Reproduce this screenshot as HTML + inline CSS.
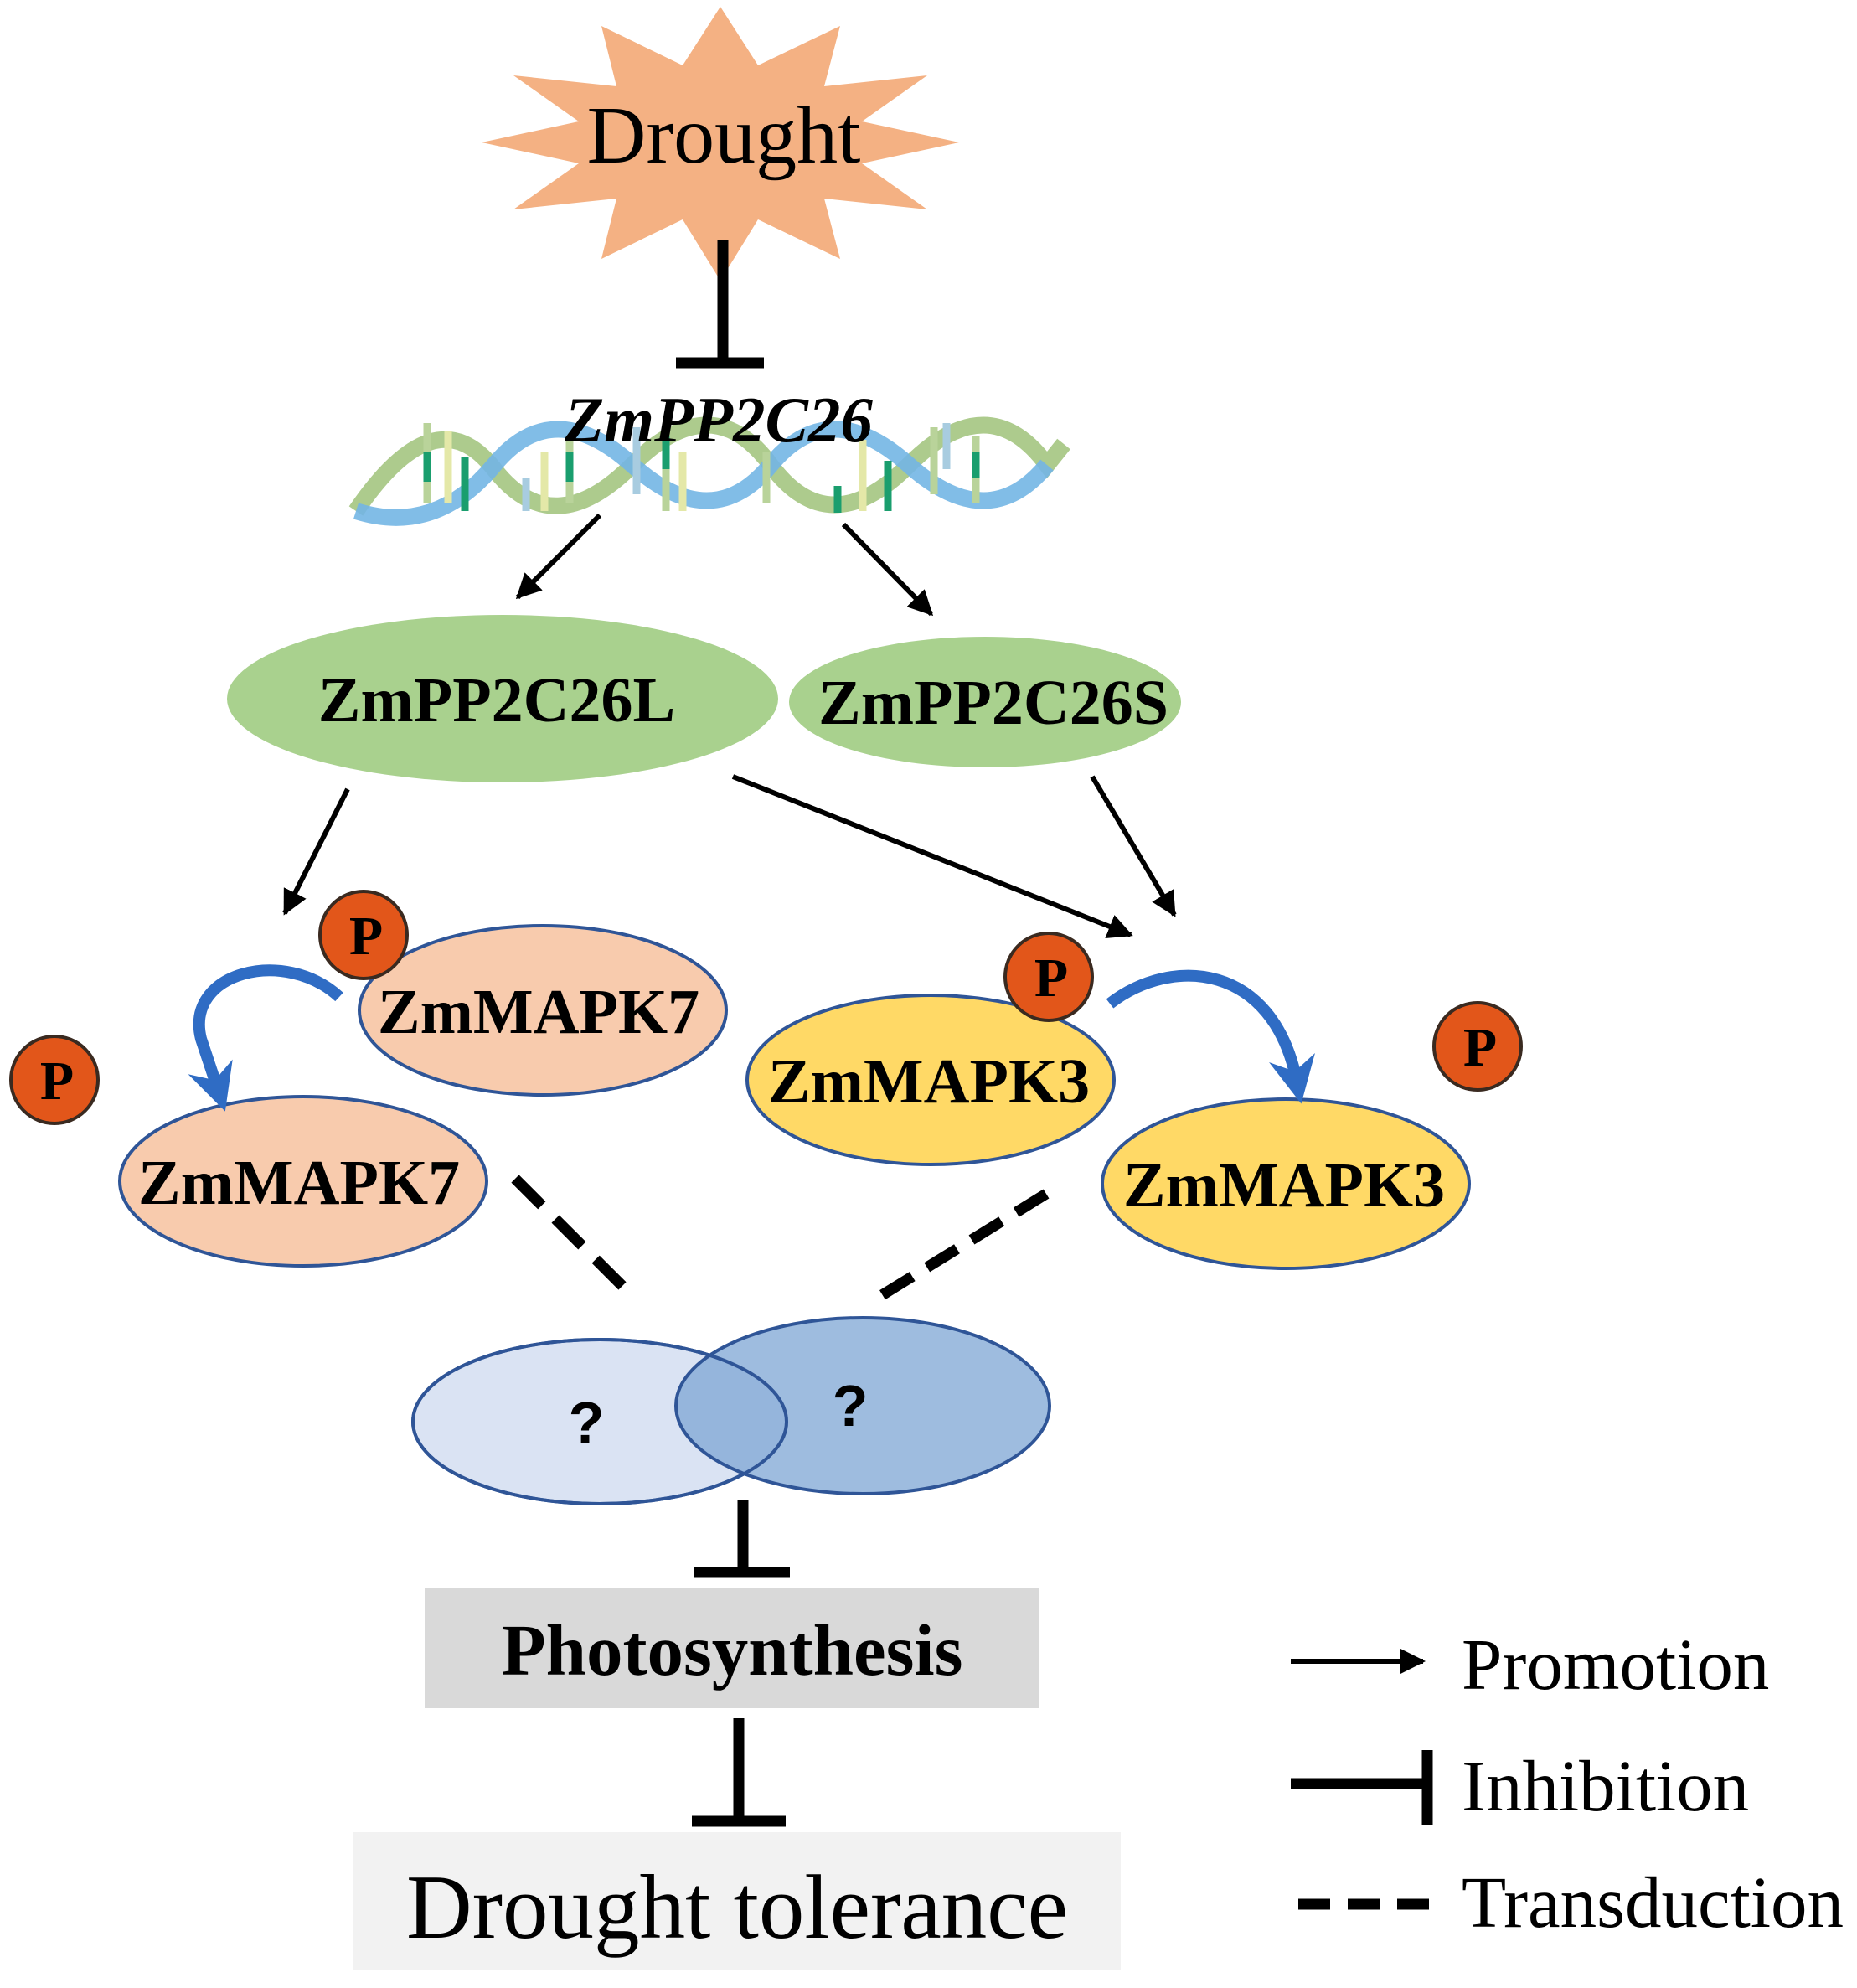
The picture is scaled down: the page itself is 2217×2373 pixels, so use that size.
<!DOCTYPE html>
<html><head><meta charset="utf-8"><style>html,body{margin:0;padding:0;background:#fff}svg{display:block}</style></head>
<body>
<svg width="2217" height="2373" viewBox="0 0 2217 2373" xmlns="http://www.w3.org/2000/svg">
<defs>
<marker id="ah" viewBox="0 0 10 10" refX="9" refY="5" markerWidth="5" markerHeight="5" orient="auto" markerUnits="strokeWidth"><path d="M0,0 L10,5 L0,10 z" fill="#000"/></marker>
<marker id="bh" viewBox="0 0 10 10" refX="5" refY="5" markerWidth="4" markerHeight="4" orient="auto" markerUnits="strokeWidth"><path d="M0,0 L10,5 L0,10 L3,5 z" fill="#2f6cc4"/></marker>
</defs>
<g font-family="Liberation Serif, serif">
<polygon fill="#f4b183" points="1145,170 1029,195 1107,250 984,237 1003,309 905,262 860,335 815,262 718,309 736,237 613,250 691,195 575,170 691,145 613,90 736,103 718,31 815,78 860,8 905,78 1003,31 984,103 1107,90 1029,145"/>
<text x="864" y="194" font-size="98" text-anchor="middle">Drought</text>
<line x1="863" y1="287" x2="863" y2="430" stroke="#000" stroke-width="13"/>
<line x1="807" y1="433" x2="912" y2="433" stroke="#000" stroke-width="13"/>
<g fill="none" stroke-width="20" opacity="0.85">
<path d="M425,610 Q520,470 590,560 T755,555 T920,555 T1085,555 T1250,555 L1270,530" stroke="#9fc27a"/>
<path d="M425,610 Q520,640 590,555 T755,555 T920,555 T1085,555 T1250,555" stroke="#5ba8e0" opacity="0.9"/>
</g>
<g stroke-width="9">
<line x1="510" y1="505" x2="510" y2="600" stroke="#b9d39a"/><line x1="510" y1="540" x2="510" y2="575" stroke="#1a9e6e"/>
<line x1="535" y1="515" x2="535" y2="600" stroke="#e4e8a8"/>
<line x1="555" y1="545" x2="555" y2="610" stroke="#1a9e6e"/>
<line x1="628" y1="570" x2="628" y2="610" stroke="#a8cce0"/>
<line x1="650" y1="540" x2="650" y2="610" stroke="#e4e8a8"/>
<line x1="680" y1="525" x2="680" y2="600" stroke="#b9d39a"/><line x1="680" y1="540" x2="680" y2="575" stroke="#1a9e6e"/>
<line x1="760" y1="510" x2="760" y2="590" stroke="#a8cce0"/>
<line x1="795" y1="515" x2="795" y2="610" stroke="#b9d39a"/><line x1="795" y1="520" x2="795" y2="560" stroke="#1a9e6e"/>
<line x1="815" y1="540" x2="815" y2="610" stroke="#e4e8a8"/>
<line x1="915" y1="540" x2="915" y2="600" stroke="#b9d39a"/>
<line x1="1000" y1="580" x2="1000" y2="612" stroke="#1a9e6e"/>
<line x1="1030" y1="525" x2="1030" y2="610" stroke="#e4e8a8"/>
<line x1="1060" y1="550" x2="1060" y2="610" stroke="#1a9e6e"/>
<line x1="1115" y1="510" x2="1115" y2="590" stroke="#b9d39a"/>
<line x1="1130" y1="505" x2="1130" y2="560" stroke="#a8cce0"/>
<line x1="1165" y1="520" x2="1165" y2="600" stroke="#b9d39a"/><line x1="1165" y1="540" x2="1165" y2="570" stroke="#1a9e6e"/>
</g>
<text x="858" y="527" font-size="77" font-weight="bold" font-style="italic" text-anchor="middle">ZmPP2C26</text>
<g stroke="#000" stroke-width="6" marker-end="url(#ah)">
<line x1="716" y1="615" x2="618" y2="713"/>
<line x1="1007" y1="626" x2="1112" y2="733"/>
<line x1="415" y1="942" x2="340" y2="1090"/>
<line x1="875" y1="927" x2="1350" y2="1116"/>
<line x1="1304" y1="927" x2="1402" y2="1092"/>
<line x1="1541" y1="1983" x2="1699" y2="1983"/>
</g>
<ellipse cx="600" cy="834" rx="329" ry="100" fill="#a9d18e"/>
<text x="593" y="861" font-size="76" font-weight="bold" text-anchor="middle">ZmPP2C26L</text>
<ellipse cx="1176" cy="838" rx="234" ry="78" fill="#a9d18e"/>
<text x="1186" y="864" font-size="76" font-weight="bold" text-anchor="middle">ZmPP2C26S</text>
<g stroke="#2f5597" stroke-width="4">
<ellipse cx="648" cy="1206" rx="219" ry="101" fill="#f8cbad"/>
<ellipse cx="362" cy="1410" rx="219" ry="101" fill="#f8cbad"/>
<ellipse cx="1111" cy="1289" rx="219" ry="101" fill="#ffd966"/>
<ellipse cx="1535" cy="1413" rx="219" ry="101" fill="#ffd966"/>
</g>
<g font-size="76" font-weight="bold" text-anchor="middle">
<text x="643" y="1233">ZmMAPK7</text>
<text x="357" y="1437">ZmMAPK7</text>
<text x="1109" y="1316">ZmMAPK3</text>
<text x="1533" y="1440">ZmMAPK3</text>
</g>
<path d="M405,1190 C340,1130 220,1160 240,1240 L260,1300" fill="none" stroke="#2f6cc4" stroke-width="14" marker-end="url(#bh)"/>
<path d="M1325,1198 C1400,1140 1520,1150 1548,1290" fill="none" stroke="#2f6cc4" stroke-width="14" marker-end="url(#bh)"/>
<g fill="#e2561a" stroke="#3a2a20" stroke-width="4">
<circle cx="434" cy="1116" r="52"/><circle cx="65" cy="1289" r="52"/><circle cx="1252" cy="1166" r="52"/><circle cx="1764" cy="1249" r="52"/>
</g>
<g font-size="66" font-weight="bold" text-anchor="middle">
<text x="437" y="1139">P</text><text x="68" y="1312">P</text><text x="1255" y="1189">P</text><text x="1767" y="1272">P</text>
</g>
<g stroke="#000" stroke-width="13">
<line x1="615" y1="1407" x2="743" y2="1535" stroke-dasharray="45,23"/>
<line x1="1249" y1="1425" x2="1053" y2="1546" stroke-dasharray="42,20.6"/>
<line x1="1550" y1="2273" x2="1706" y2="2273" stroke-dasharray="38,21"/>
</g>
<ellipse cx="716" cy="1697" rx="223" ry="98" fill="#dae3f3" stroke="#2f5597" stroke-width="4"/>
<ellipse cx="1030" cy="1678" rx="223" ry="105" fill="#7ea6d4" fill-opacity="0.75" stroke="#2f5597" stroke-width="4"/>
<ellipse cx="716" cy="1697" rx="223" ry="98" fill="none" stroke="#2f5597" stroke-width="4"/>
<text x="700" y="1722" font-size="70" font-weight="bold" font-family="Liberation Sans, sans-serif" text-anchor="middle">?</text>
<text x="1015" y="1702" font-size="70" font-weight="bold" font-family="Liberation Sans, sans-serif" text-anchor="middle">?</text>
<g stroke="#000" stroke-width="13">
<line x1="887" y1="1791" x2="887" y2="1875"/><line x1="829" y1="1877" x2="943" y2="1877"/>
<line x1="882" y1="2051" x2="882" y2="2172"/><line x1="826" y1="2174" x2="938" y2="2174"/>
<line x1="1541" y1="2129" x2="1704" y2="2129"/><line x1="1704" y1="2089" x2="1704" y2="2179"/>
</g>
<rect x="507" y="1896" width="734" height="143" fill="#d9d9d9"/>
<text x="874" y="1999" font-size="87" font-weight="bold" text-anchor="middle">Photosynthesis</text>
<rect x="422" y="2187" width="916" height="165" fill="#f2f2f2"/>
<text x="880" y="2313" font-size="109" text-anchor="middle">Drought tolerance</text>
<g font-size="87">
<text x="1745" y="2016">Promotion</text>
<text x="1745" y="2161">Inhibition</text>
<text x="1745" y="2300">Transduction</text>
</g>
</g>
</svg>
</body></html>
